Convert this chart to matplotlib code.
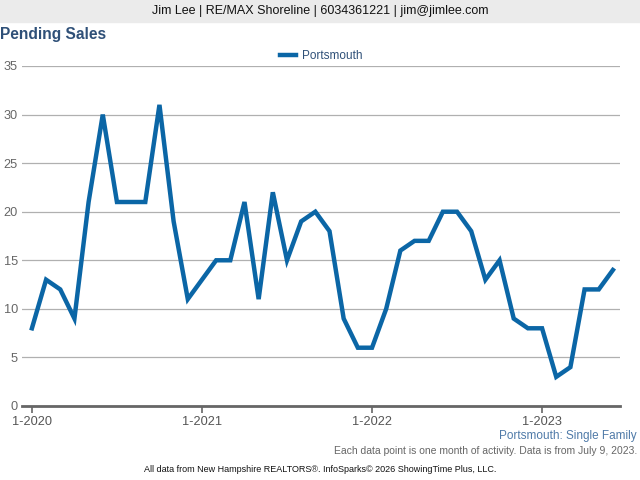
import numpy as np
import matplotlib
matplotlib.use("Agg")
import matplotlib.pyplot as plt

plt.rcParams['font.family'] = ['Liberation Sans', 'DejaVu Sans']

# monthly pending sales, Jan 2020 .. Jun 2023
sales = [8, 13, 12, 9, 21, 30, 21, 21, 21, 31, 19, 11,
         13, 15, 15, 21, 11, 22, 15, 19, 20, 18, 9, 6,
         6, 10, 16, 17, 17, 20, 20, 18, 13, 15, 9, 8,
         8, 3, 4, 12, 12, 14]
tick_pos = [0, 12, 24, 36]
tick_labels = ['1-2020', '1-2021', '1-2022', '1-2023']
y_ticks = [0, 5, 10, 15, 20, 25, 30, 35]

fig = plt.figure(figsize=(6.4, 4.8), dpi=100)

# header band
fig.patches.append(plt.Rectangle((0, 1 - 22/480), 1, 22/480, transform=fig.transFigure,
                                 color='#ebebeb', zorder=0))
fig.text(0.5, 1 - 11/480, 'Jim Lee | RE/MAX Shoreline | 6034361221 | jim@jimlee.com',
         ha='center', va='center', fontsize=9, color='#111111')
fig.text(0.0, 1 - 34/480, 'Pending Sales', ha='left', va='center', fontsize=11.2,
         fontweight='bold', color='#2f5078')

ax = fig.add_axes([22/640, 1 - 406/480, 598/640, 340/480])
x = np.arange(len(sales))
ax.plot(x, sales, color='#0b66a6', lw=3.2, solid_joinstyle='miter', label='Portsmouth', zorder=3)
ax.set_xlim(-0.7, 41.5)
ax.set_ylim(0, 35)
ax.set_yticks(y_ticks)
ax.set_xticks(tick_pos)
ax.set_xticklabels(tick_labels)
ax.grid(axis='y', color='#b0b0b0', lw=0.9)
ax.set_axisbelow(True)
for s in ['top', 'right', 'left']:
    ax.spines[s].set_visible(False)
ax.spines['bottom'].set_color('#666666')
ax.spines['bottom'].set_linewidth(2)
ax.tick_params(axis='y', length=0, pad=3, labelsize=9.2, labelcolor='#666666')
ax.tick_params(axis='x', length=5, width=1.2, color='#666666', labelsize=9.2,
               labelcolor='#555555', pad=2)

leg = ax.legend(loc='upper center', bbox_to_anchor=(0.5, 1 + 21/340), frameon=False,
                fontsize=8.5, handlelength=1.4, borderaxespad=0, handletextpad=0.5)
for t in leg.get_texts():
    t.set_color('#2f5078')

fig.text(637/640, 1 - 436/480, 'Portsmouth: Single Family', ha='right', va='center',
         fontsize=8.5, color='#4f7aa8')
fig.text(637/640, 1 - 451/480, 'Each data point is one month of activity. Data is from July 9, 2023.',
         ha='right', va='center', fontsize=7.5, color='#666666')
fig.text(0.5, 1 - 469/480, 'All data from New Hampshire REALTORS\u00ae. InfoSparks\u00a9 2026 ShowingTime Plus, LLC.',
         ha='center', va='center', fontsize=6.5, color='#111111')

fig.savefig('out.png', dpi=100)
